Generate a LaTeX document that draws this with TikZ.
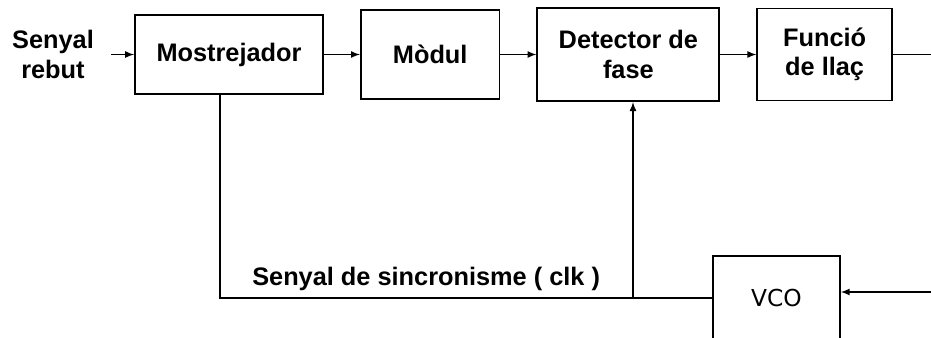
\documentclass[tikz,border=0pt]{standalone}
\usepackage{fontspec}
\setmainfont{Liberation Sans}
\newfontfamily\vcofont{DejaVu Sans}
\usepackage{tikz}
\usetikzlibrary{calc,positioning,arrows,chains}
\tikzset{
    >=latex,
    bloc/.style={
      rectangle,
      draw=black, line width=1.4pt,
      font=\fontsize{19}{22}\selectfont\bfseries,
      align=center,
      inner sep=0pt,
      on chain},
    txt/.style={
      inner sep=0pt,
      align=center,
      font=\fontsize{19}{22}\selectfont\bfseries},
    line/.style={draw, line width=1.3pt},
}

\begin{document}
\begin{tikzpicture}[x=0.75pt,y=-0.75pt,node distance=27pt,start chain=going right]
        \useasboundingbox (0,0) rectangle (931,337);
        \clip (0,0) rectangle (931,337);
        \node[bloc, minimum width=141pt, minimum height=59pt] (mostr) at (229,54.5) {Mostrejador};
        \node[bloc, minimum width=104pt, minimum height=67pt] (modul) {Mòdul};
        \node[bloc, minimum width=136.5pt, minimum height=70pt] (det) {Detector de\\fase};
        \node[bloc, minimum width=101pt, minimum height=69pt] (func) {Funció\\de llaç};
        \node[txt, left=30pt of mostr] (input) {Senyal\\rebut};
        % llaç de realimentacio
        \node[draw=black, line width=1.4pt, minimum width=95pt, minimum height=63pt,
              font=\vcofont\fontsize{17.5}{20}\selectfont] (vco) at (776.5,298) {VCO};
        \coordinate (edge) at (940,292);
        \coordinate (clk) at (220,298);
        \coordinate (tap) at (633,298);
        \node[txt, anchor=base west] (sync) at (252,285) {Senyal de sincronisme ( clk )};

        \draw[line,->, shorten <=12.75pt] (input) -- (mostr);
        \draw[line,->] (mostr) -- (modul);
        \draw[line,->] (modul) -- (det);
        \draw[line,->] (det) -- (func);
        \draw[line] (func) -- (func -| edge);
        \draw[line,->] (edge) -- (edge -| vco.east);
        \draw[line] (clk |- mostr.south) -- (clk) -- (vco.west);
        \draw[line,->] (tap) -- (tap |- det.south);
    \end{tikzpicture}
\end{document}
